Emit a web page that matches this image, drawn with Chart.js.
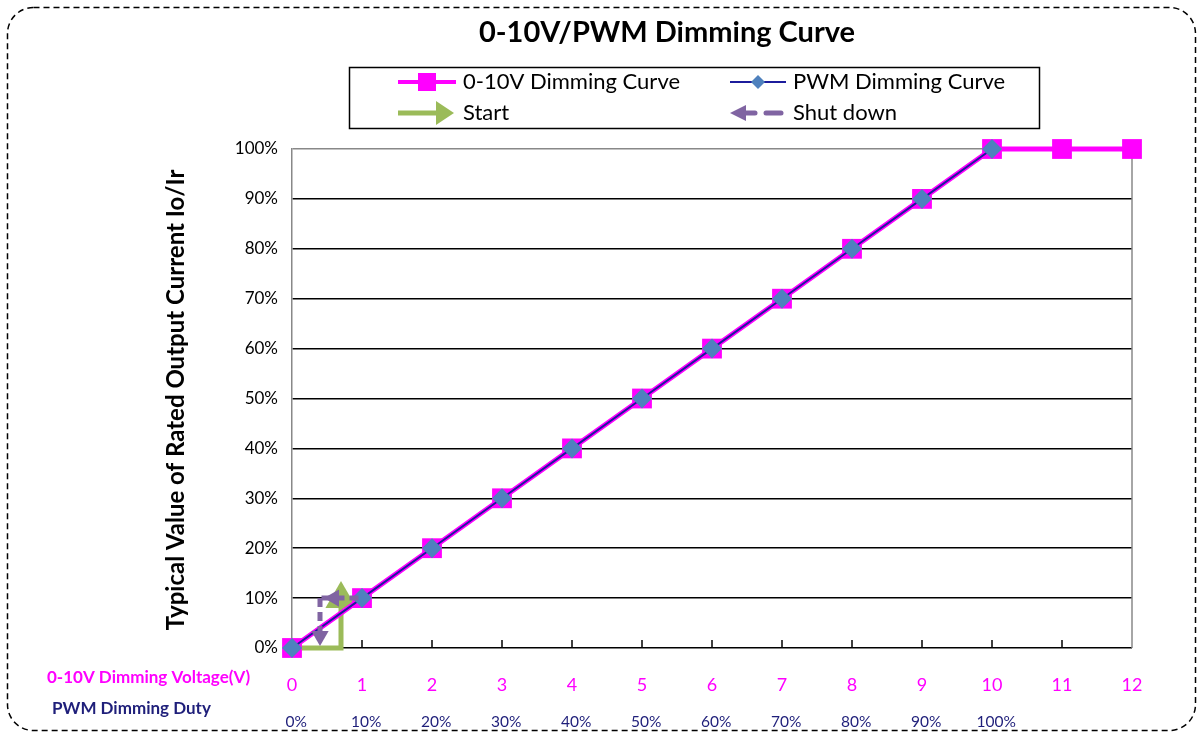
<!DOCTYPE html>
<html>
<head>
<meta charset="utf-8">
<script src="https://cdn.jsdelivr.net/npm/chart.js@4.4.1/dist/chart.umd.min.js"></script>
<style>
html,body{margin:0;padding:0;background:#fff;}
canvas{display:block;}
</style>
</head>
<body>
<canvas id="c" width="1198" height="733"></canvas>
<script>
// ---- data ----
const voltageTicks = [0,1,2,3,4,5,6,7,8,9,10,11,12];
const dutyLabels = ['0%','10%','20%','30%','40%','50%','60%','70%','80%','90%','100%'];
const voltX = [0,1,2,3,4,5,6,7,8,9,10,11,12];
const voltY = [0,10,20,30,40,50,60,70,80,90,100,100,100];
const pwmX = [0,1,2,3,4,5,6,7,8,9,10];
const pwmY = [0,10,20,30,40,50,60,70,80,90,100];
const startX = [0,0.7,0.7];
const startY = [0,0,9.8];
const shutHX = [0.95,0.6,0.4];
const shutHY = [10,10,10];
const shutVX = [0.4,0.4];
const shutVY = [10,2.4];
const seriesNames = ['0-10V Dimming Curve','PWM Dimming Curve','Start','Shut down'];
const titleText = '0-10V/PWM Dimming Curve';
const yTitle = 'Typical Value of Rated Output Current Io/Ir';
const voltAxisLabel = '0-10V Dimming Voltage(V)';
const dutyAxisLabel = 'PWM Dimming Duty';

const MAG = '#ff00ff', NAVY = '#1c1c9c', DIAM = '#4f81bd', GREEN = '#9bbb59', PURPLE = '#8064a2', DUTY = '#1f1f7a';
const FONT = 'Lato, "Open Sans", sans-serif';
const pts = (xs, ys) => xs.map((x,i)=>({x:x, y:ys[i]}));

const decor = {
  id:'decor',
  beforeDraw(chart){
    const ctx = chart.ctx;
    ctx.save();
    ctx.fillStyle='#fff'; ctx.fillRect(0,0,chart.width,chart.height);
    ctx.strokeStyle='#000'; ctx.lineWidth=1.5; ctx.setLineDash([6,4]);
    const x0=7.5,y0=7.5,x1=1195.5,y1=730.5,r=26;
    ctx.beginPath();
    ctx.moveTo(x0+r,y0); ctx.lineTo(x1-r,y0); ctx.arcTo(x1,y0,x1,y0+r,r);
    ctx.lineTo(x1,y1-r); ctx.arcTo(x1,y1,x1-r,y1,r);
    ctx.lineTo(x0+r,y1); ctx.arcTo(x0,y1,x0,y1-r,r);
    ctx.lineTo(x0,y0+r); ctx.arcTo(x0,y0,x0+r,y0,r);
    ctx.closePath(); ctx.stroke();
    ctx.setLineDash([]);
    ctx.restore();
  },
  beforeDatasetsDraw(chart){
    const ctx = chart.ctx, a = chart.chartArea, xs = chart.scales.x;
    ctx.save();
    ctx.strokeStyle='#888'; ctx.lineWidth=1.5;
    ctx.beginPath(); ctx.moveTo(a.right, a.top); ctx.lineTo(a.right, a.bottom); ctx.stroke();
    ctx.strokeStyle='#000'; ctx.lineWidth=1.5;
    voltageTicks.forEach(v=>{ if(v===0||v===12) return; const px = xs.getPixelForValue(v);
      ctx.beginPath(); ctx.moveTo(px, a.bottom); ctx.lineTo(px, a.bottom-8); ctx.stroke(); });
    ctx.restore();
  },
  afterDraw(chart){
    const ctx = chart.ctx;
    ctx.save();
    ctx.fillStyle='#000'; ctx.textAlign='center'; ctx.textBaseline='middle';
    ctx.font='bold 29px '+FONT;
    ctx.fillText(titleText, 667, 33);
    ctx.save(); ctx.translate(176, 400); ctx.rotate(-Math.PI/2);
    ctx.font='bold 24px '+FONT; ctx.fillText(yTitle, 0, 0); ctx.restore();
    ctx.textAlign='left';
    ctx.font='bold 17px '+FONT; ctx.fillStyle=MAG; ctx.fillText(voltAxisLabel, 47, 678);
    ctx.fillStyle=DUTY; ctx.fillText(dutyAxisLabel, 52, 709);
    // legend
    ctx.strokeStyle='#000'; ctx.lineWidth=1.5;
    ctx.strokeRect(349.5, 67.5, 690, 61);
    ctx.font='22px '+FONT; ctx.fillStyle='#000'; ctx.textAlign='left';
    const r1=82, r2=113;
    ctx.strokeStyle=MAG; ctx.lineWidth=4; ctx.beginPath(); ctx.moveTo(398,r1); ctx.lineTo(456,r1); ctx.stroke();
    ctx.fillStyle=MAG; ctx.fillRect(418,r1-9,18,18);
    ctx.fillStyle='#000'; ctx.fillText(seriesNames[0], 463, r1);
    ctx.strokeStyle=NAVY; ctx.lineWidth=2; ctx.beginPath(); ctx.moveTo(730,r1); ctx.lineTo(786,r1); ctx.stroke();
    ctx.fillStyle=DIAM; ctx.beginPath(); ctx.moveTo(758,r1-7); ctx.lineTo(765,r1); ctx.lineTo(758,r1+7); ctx.lineTo(751,r1); ctx.closePath(); ctx.fill();
    ctx.fillStyle='#000'; ctx.fillText(seriesNames[1], 793, r1);
    ctx.strokeStyle=GREEN; ctx.lineWidth=5; ctx.beginPath(); ctx.moveTo(398,r2); ctx.lineTo(440,r2); ctx.stroke();
    ctx.fillStyle=GREEN; ctx.beginPath(); ctx.moveTo(436,r2-12); ctx.lineTo(454,r2); ctx.lineTo(436,r2+12); ctx.closePath(); ctx.fill();
    ctx.fillStyle='#000'; ctx.fillText(seriesNames[2], 463, r2);
    ctx.fillStyle=PURPLE; ctx.beginPath(); ctx.moveTo(730,r2); ctx.lineTo(746,r2-8); ctx.lineTo(746,r2+8); ctx.closePath(); ctx.fill();
    ctx.strokeStyle=PURPLE; ctx.lineWidth=5; ctx.lineCap='round';
    ctx.beginPath(); ctx.moveTo(746,r2); ctx.lineTo(755,r2); ctx.stroke();
    ctx.beginPath(); ctx.moveTo(766,r2); ctx.lineTo(781,r2); ctx.stroke();
    ctx.lineCap='butt';
    ctx.fillStyle='#000'; ctx.fillText(seriesNames[3], 793, r2);
    ctx.restore();
  }
};

new Chart(document.getElementById('c'), {
  type:'line',
  data:{
    datasets:[
      { label:seriesNames[1], data:pts(pwmX,pwmY), borderColor:NAVY, borderWidth:2, clip:false,
        pointStyle:'rectRot', pointRadius:10, pointBackgroundColor:DIAM, pointBorderColor:DIAM, pointBorderWidth:0, order:1 },
      { label:seriesNames[0], data:pts(voltX,voltY), borderColor:MAG, borderWidth:5, clip:false,
        pointStyle:'rect', pointRadius:14, pointBackgroundColor:MAG, pointBorderColor:MAG, pointBorderWidth:0, order:2 },
      { label:seriesNames[2], data:pts(startX,startY), borderColor:GREEN, borderWidth:5, clip:false,
        pointStyle:[false,false,'triangle'], pointRadius:[0,0,18], pointRotation:0,
        pointBackgroundColor:GREEN, pointBorderColor:GREEN, pointBorderWidth:0, order:3 },
      { label:seriesNames[3], data:pts(shutHX,shutHY), borderColor:PURPLE, borderWidth:5, borderDash:[9,5], clip:false,
        pointStyle:[false,'triangle',false], pointRadius:[0,10,0], pointRotation:270,
        pointBackgroundColor:PURPLE, pointBorderColor:PURPLE, pointBorderWidth:0, order:0 },
      { label:seriesNames[3]+' ', data:pts(shutVX,shutVY), borderColor:PURPLE, borderWidth:5, borderDash:[9,5], clip:false,
        pointStyle:[false,'triangle'], pointRadius:[0,10], pointRotation:180,
        pointBackgroundColor:PURPLE, pointBorderColor:PURPLE, pointBorderWidth:0, order:0 }
    ]
  },
  options:{
    responsive:false, animation:false, devicePixelRatio:1,
    layout:{padding:{top:149,right:66,bottom:0,left:0}},
    plugins:{legend:{display:false}, tooltip:{enabled:false}, title:{display:false}},
    elements:{line:{tension:0}},
    scales:{
      x:{ type:'linear', position:'bottom', min:0, max:12,
          afterBuildTicks:(s)=>{ s.ticks = voltageTicks.map(v=>({value:v})); },
          afterFit:(s)=>{ s.height=45; },
          ticks:{ color:MAG, font:{family:FONT,size:18}, padding:18, callback:(v)=>String(v), maxRotation:0, autoSkip:false },
          grid:{ display:false }, border:{display:false} },
      x2:{ type:'linear', position:'bottom', min:-0.06, max:11.94,
          afterBuildTicks:(s)=>{ s.ticks = voltageTicks.map(v=>({value:v})); },
          afterFit:(s)=>{ s.height=40; },
          ticks:{ color:DUTY, font:{family:FONT,size:15.5}, padding:12, maxRotation:0, autoSkip:false,
                  callback:(v)=> dutyLabels[v] !== undefined ? dutyLabels[v] : '' },
          grid:{display:false}, border:{display:false} },
      y:{ min:0, max:100,
          afterFit:(s)=>{ s.width=292; },
          ticks:{ stepSize:10, color:'#000', font:{family:FONT,size:17}, padding:14, callback:(v)=>v+'%' },
          grid:{ drawTicks:false, lineWidth:1.5, color:(c)=> c.tick && c.tick.value===100 ? '#888' : '#000' },
          border:{ display:true, color:'#888', width:1.5 } }
    }
  },
  plugins:[decor]
});
</script>
</body>
</html>
